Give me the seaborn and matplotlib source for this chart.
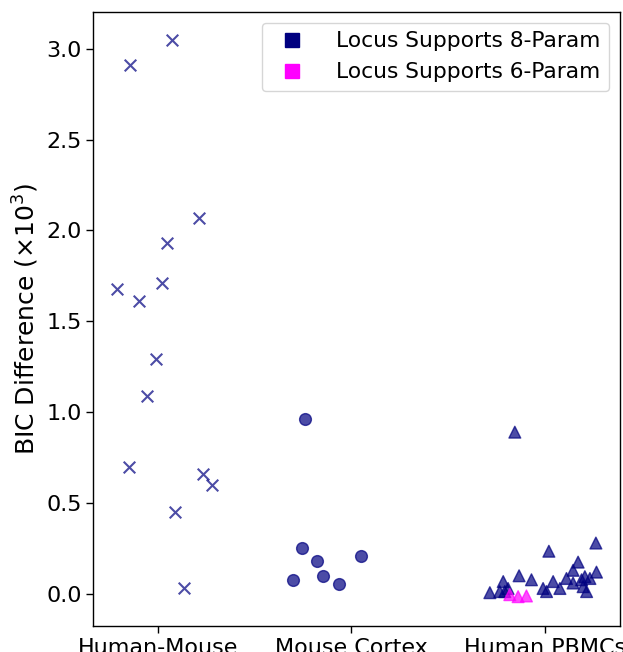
import matplotlib
matplotlib.use("Agg")
import matplotlib.pyplot as plt
from matplotlib.lines import Line2D
import numpy as np
import pandas as pd
import seaborn as sns

# Dataset names (x categories)
datasets = ["Human-Mouse", "Mouse Cortex", "Human PBMCs"]

# BIC difference (x10^3) per locus and horizontal jitter within each category
hm_offset = [-0.145, 0.071, 0.213, 0.045, -0.210, -0.097, 0.019, -0.010,
             -0.057, -0.148, 0.231, 0.281, 0.088, 0.136]
hm_bic = [2.91, 3.05, 2.07, 1.93, 1.68, 1.61, 1.71, 1.29,
          1.09, 0.70, 0.66, 0.60, 0.45, 0.03]

mc_offset = [-0.237, -0.256, -0.178, 0.048, -0.149, -0.304, -0.065]
mc_bic = [0.96, 0.25, 0.18, 0.21, 0.10, 0.075, 0.055]

pbmc_offset = [-0.155, 0.021, 0.264, 0.172, 0.146, 0.112, 0.207, 0.233,
               0.267, 0.043, 0.078, 0.146, 0.190, 0.198, 0.216, 0.009,
               -0.009, -0.133, -0.069, -0.215, -0.284, -0.233, -0.207, -0.190,
               -0.181, -0.138, -0.095]
pbmc_bic = [0.89, 0.235, 0.28, 0.175, 0.13, 0.085, 0.095, 0.085,
            0.12, 0.068, 0.03, 0.06, 0.078, 0.04, 0.013, 0.013,
            0.03, 0.10, 0.078, 0.068, 0.007, 0.013, 0.013, 0.03,
            -0.004, -0.015, -0.011]
pbmc_support = ["8-Param"] * 24 + ["6-Param"] * 3

support_colors = {"8-Param": "navy", "6-Param": "magenta"}

hm = pd.DataFrame({"x": 0 + np.array(hm_offset), "bic": hm_bic})
mc = pd.DataFrame({"x": 1 + np.array(mc_offset), "bic": mc_bic})
pb = pd.DataFrame({"x": 2 + np.array(pbmc_offset), "bic": pbmc_bic,
                   "support": pbmc_support})

sns.set_style("ticks")
plt.rcParams["font.family"] = ["DejaVu Sans"]
plt.rcParams["text.color"] = "black"
plt.rcParams["axes.labelcolor"] = "black"
plt.rcParams["xtick.color"] = "black"
plt.rcParams["ytick.color"] = "black"

fig = plt.figure(figsize=(6.23, 6.52), dpi=100)
ax = fig.add_axes([0.150, 0.040, 0.845, 0.942])

sns.scatterplot(data=hm, x="x", y="bic", marker="x", color="navy",
                s=70, alpha=0.7, linewidth=1.5, ax=ax, legend=False)
sns.scatterplot(data=mc, x="x", y="bic", marker="o", color="navy",
                edgecolor="navy", s=72, alpha=0.7, linewidth=1.0,
                ax=ax, legend=False)
sns.scatterplot(data=pb, x="x", y="bic", hue="support", palette=support_colors,
                marker="^", s=72, alpha=0.7, linewidth=1.0,
                edgecolor=[support_colors[k] for k in pb["support"]],
                ax=ax, legend=False)

ax.set_xlim(-0.333, 2.388)
ax.set_ylim(-0.176, 3.203)
ax.set_xticks(range(len(datasets)))
ax.set_xticklabels(datasets)
ax.set_yticks(np.arange(0, 3.01, 0.5))
ax.tick_params(labelsize=16, colors="black", labelcolor="black",
               width=1.0, length=4.9)
for s in ax.spines.values():
    s.set_visible(True)
    s.set_color("black")
    s.set_linewidth(1.0)

ax.set_xlabel("")
ax.set_ylabel(r"BIC Difference ($\times10^3$)", fontsize=18, color="black")

handles = [Line2D([], [], marker="s", color=support_colors[k], linestyle="None",
                  markersize=10, label=f"Locus Supports {k}")
           for k in ["8-Param", "6-Param"]]
leg = ax.legend(handles=handles, loc="upper right", fontsize=15.7,
                frameon=True, handletextpad=1.0)
for t in leg.get_texts():
    t.set_color("black")

fig.savefig("out.png", dpi=100)
